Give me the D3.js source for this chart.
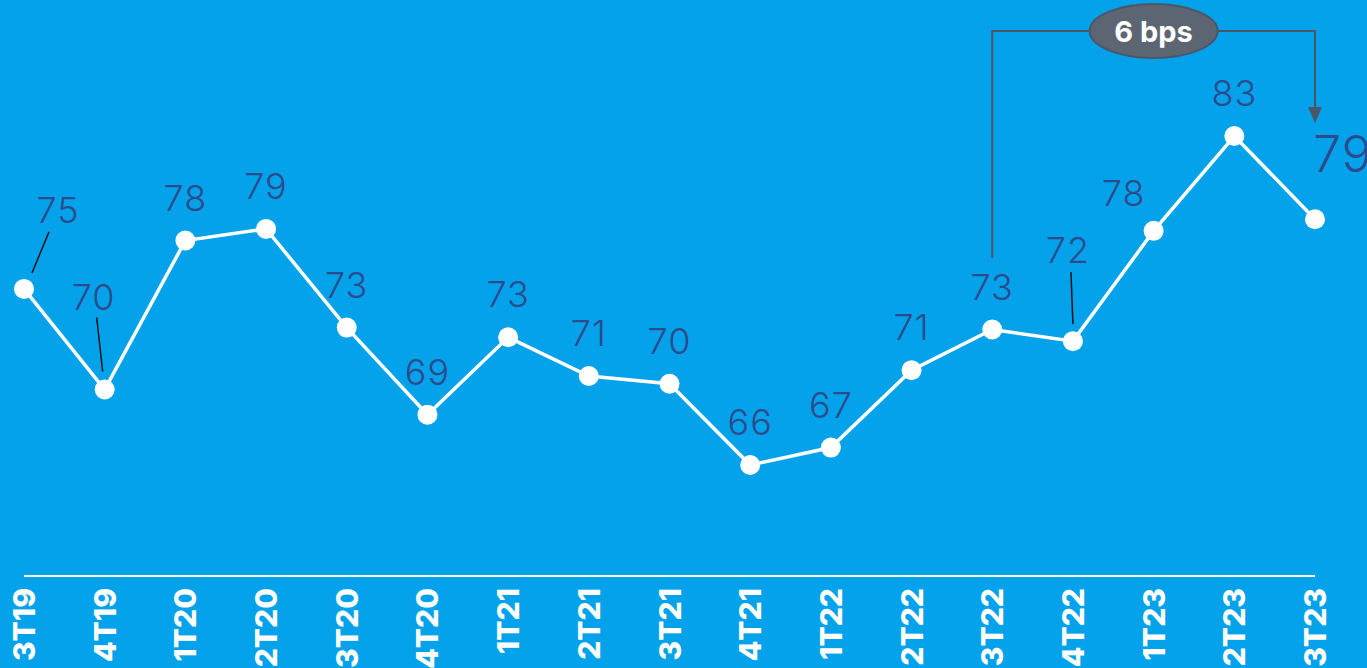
<!DOCTYPE html>
<html>
<head>
<meta charset="utf-8">
<script src="https://cdn.jsdelivr.net/npm/d3@7"></script>
<style>
  html, body { margin: 0; padding: 0; background: #03A2EA; overflow: hidden; }
  svg { display: block; }
</style>
</head>
<body>
<div id="chart"></div>
<script>
var width = 1367;
var height = 668;

// quarters and values
var quarters = ['3T19', '4T19', '1T20', '2T20', '3T20', '4T20', '1T21', '2T21', '3T21',
                '4T21', '1T22', '2T22', '3T22', '4T22', '1T23', '2T23', '3T23'];
var values = [75.1, 69.9, 77.6, 78.2, 73.1, 68.6, 72.6, 70.6, 70.2,
              66.0, 66.9, 70.9, 73.0, 72.4, 78.1, 83.0, 78.7];
var labels = ['75', '70', '78', '79', '73', '69', '73', '71', '70',
              '66', '67', '71', '73', '72', '78', '83', '79'];
var deltaText = '6 bps';

var svg = d3.select("#chart")
            .append("svg")
            .attr("width", width)
            .attr("height", height);

svg.append("rect")
    .attr("width", width)
    .attr("height", height)
    .attr("fill", "#03A2EA");

var x = d3.scalePoint()
    .domain(quarters)
    .range([24, 1315]);

var y = d3.scaleLinear()
    .domain([66, 83])
    .range([465, 136]);

// axis line + rotated labels
var axisY = 576;
svg.append("line")
    .attr("x1", x(quarters[0]))
    .attr("x2", x(quarters[quarters.length - 1]))
    .attr("y1", axisY)
    .attr("y2", axisY)
    .attr("stroke", "#fff")
    .attr("stroke-width", 2);

svg.selectAll(".xlab")
    .data(quarters)
    .enter()
    .append("text")
    .attr("class", "xlab")
    .attr("transform", function(d) { return "translate(" + (x(d) + 11) + "," + 588 + ") rotate(-90)"; })
    .attr("text-anchor", "end")
    .attr("fill", "#fff")
    .style("font-family", "Inter, 'Open Sans', sans-serif")
    .style("font-weight", 800)
    .style("font-size", "30px")
    .text(function(d) { return d; });

// annotation bracket
var i0 = 12, i1 = 16;
var bracketY = 31;
var annColor = "#4B5668";
svg.append("path")
    .attr("d", "M" + x(quarters[i0]) + "," + 258 +
               "V" + bracketY +
               "H" + x(quarters[i1]) +
               "V" + 110)
    .attr("fill", "none")
    .attr("stroke", annColor)
    .attr("stroke-width", 2);
svg.append("path")
    .attr("d", "M" + (x(quarters[i1]) - 7) + ",107L" + (x(quarters[i1]) + 7) + ",107L" + x(quarters[i1]) + ",123Z")
    .attr("fill", annColor);

var ex = x(quarters[i1 - 2]);
svg.append("ellipse")
    .attr("cx", ex)
    .attr("cy", bracketY)
    .attr("rx", 64)
    .attr("ry", 27)
    .attr("fill", "#5C6673")
    .attr("stroke", "#4B5668")
    .attr("stroke-width", 2);
svg.append("text")
    .attr("x", ex)
    .attr("y", bracketY + 11)
    .attr("text-anchor", "middle")
    .attr("fill", "#fff")
    .style("font-family", "Inter, 'Open Sans', sans-serif")
    .style("font-weight", 700)
    .style("font-size", "29px")
    .text(deltaText);

// line + dots
var line = d3.line()
    .x(function(d, i) { return x(quarters[i]); })
    .y(function(d) { return y(d); });

svg.append("path")
    .datum(values)
    .attr("d", line)
    .attr("fill", "none")
    .attr("stroke", "#fff")
    .attr("stroke-width", 3.5);

svg.selectAll(".dot")
    .data(values)
    .enter()
    .append("circle")
    .attr("class", "dot")
    .attr("cx", function(d, i) { return x(quarters[i]); })
    .attr("cy", function(d) { return y(d); })
    .attr("r", 10)
    .attr("fill", "#fff");

// value labels (offset of text centre from point)
var offsets = {0: [34, -79], 1: [-11, -93], 13: [-5, -91], 14: [-30, -38]};
var leaders = {0: [[8, -16], [25, -57]], 1: [[-8, -72], [-2, -18]], 13: [[-2, -69], [0, -17]]};

svg.selectAll(".vlab")
    .data(values.slice(0, values.length - 1))
    .enter()
    .append("text")
    .attr("class", "vlab")
    .attr("x", function(d, i) { return x(quarters[i]) + (offsets[i] ? offsets[i][0] : 0); })
    .attr("y", function(d, i) { return y(d) + (offsets[i] ? offsets[i][1] : -43) + 13; })
    .attr("text-anchor", "middle")
    .attr("fill", "#2B4B8C")
    .style("font-family", "Inter, 'Open Sans', sans-serif")
    .style("font-weight", 300)
    .style("font-size", "36px")
    .style("letter-spacing", "1px")
    .text(function(d, i) { return labels[i]; });

Object.keys(leaders).forEach(function(k) {
    var px = x(quarters[k]), py = y(values[k]);
    svg.append("line")
        .attr("x1", px + leaders[k][0][0])
        .attr("y1", py + leaders[k][0][1])
        .attr("x2", px + leaders[k][1][0])
        .attr("y2", py + leaders[k][1][1])
        .attr("stroke", "#111")
        .attr("stroke-width", 1.5);
});

// last value, bigger
var last = values.length - 1;
svg.append("text")
    .attr("x", x(quarters[last]) - 2)
    .attr("y", y(values[last]) - 47)
    .attr("fill", "#2B4B8C")
    .style("font-family", "Inter, 'Open Sans', sans-serif")
    .style("font-weight", 300)
    .style("font-size", "50px")
    .style("letter-spacing", "1px")
    .text(labels[last]);
</script>
</body>
</html>
